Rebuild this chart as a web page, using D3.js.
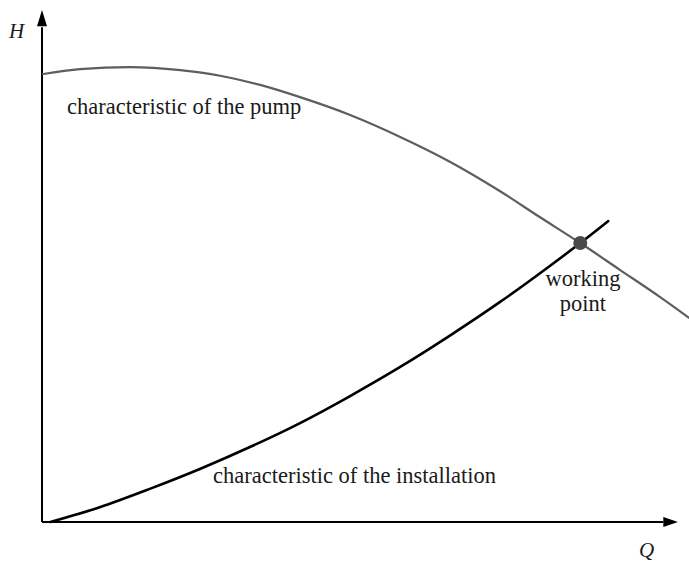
<!DOCTYPE html>
<html>
<head>
<meta charset="utf-8">
<script src="https://cdn.jsdelivr.net/npm/d3@7"></script>
<style>
  html, body { margin: 0; padding: 0; background: #fff; }
  svg { display: block; }
  text { font-family: "Liberation Serif", "Times New Roman", "DejaVu Serif", serif; fill: #1a1a1a; }
</style>
</head>
<body>
<svg id="chart" width="689" height="563"></svg>
<script>
// Flow rate Q (arbitrary units) and head H (arbitrary units)
const pumpQ = [0, 6.0, 13.9, 21.8, 28.1, 34.4, 40.7, 48.6, 56.5, 64.4, 72.2, 78.5, 84.9, 91.2, 97.5, 102.1];
const pumpH = [87.8, 88.8, 89.2, 88.6, 87.5, 85.7, 83.3, 79.8, 75.5, 70.6, 64.9, 59.8, 54.7, 49.4, 44.1, 40.0];

const installQ = [1.3, 9.1, 17.0, 24.9, 32.8, 40.7, 48.6, 56.5, 64.4, 72.2, 80.1, 84.9, 89.3];
const installH = [0, 2.9, 6.5, 10.4, 14.7, 19.4, 24.7, 30.4, 36.6, 43.1, 50.2, 54.7, 59.0];

const workingQ = [84.9];
const workingH = [54.7];

const labels = {
  pump: "characteristic of the pump",
  install: "characteristic of the installation",
  working: ["working", "point"],
  xAxis: "Q",
  yAxis: "H"
};

const svg = d3.select("#chart");

const x = d3.scaleLinear().domain([0, 100]).range([42, 676]);
const y = d3.scaleLinear().domain([0, 100]).range([522, 12]);

const line = d3.line()
  .x(d => x(d[0]))
  .y(d => y(d[1]))
  .curve(d3.curveMonotoneX);

// axes with arrow heads
svg.append("line")
  .attr("x1", x(0)).attr("y1", y(0))
  .attr("x2", x(0)).attr("y2", y(97))
  .attr("stroke", "#000").attr("stroke-width", 2);
svg.append("path")
  .attr("d", `M${x(0)},${y(100) - 2} L${x(0) - 5},${y(97.2)} L${x(0) + 5},${y(97.2)} Z`)
  .attr("fill", "#000");

svg.append("line")
  .attr("x1", x(0)).attr("y1", y(0))
  .attr("x2", x(98)).attr("y2", y(0))
  .attr("stroke", "#000").attr("stroke-width", 2);
svg.append("path")
  .attr("d", `M${x(100) + 2},${y(0)} L${x(98)},${y(0) - 5} L${x(98)},${y(0) + 5} Z`)
  .attr("fill", "#000");

// pump characteristic
svg.append("path")
  .datum(d3.zip(pumpQ, pumpH))
  .attr("d", line)
  .attr("fill", "none")
  .attr("stroke", "#5e5e5e")
  .attr("stroke-width", 2.2);

// installation characteristic
svg.append("path")
  .datum(d3.zip(installQ, installH))
  .attr("d", line)
  .attr("fill", "none")
  .attr("stroke", "#000")
  .attr("stroke-width", 2.6)
  .attr("stroke-linecap", "round");

// working point
svg.selectAll("circle.wp")
  .data(d3.zip(workingQ, workingH))
  .join("circle")
  .attr("class", "wp")
  .attr("cx", d => x(d[0]))
  .attr("cy", d => y(d[1]))
  .attr("r", 7)
  .attr("fill", "#4a4a4a");

// labels
svg.append("text")
  .attr("x", 67).attr("y", 114)
  .attr("font-size", 22.5)
  .text(labels.pump);

svg.append("text")
  .attr("x", 213).attr("y", 483)
  .attr("font-size", 22.5)
  .text(labels.install);

svg.append("text")
  .attr("x", 583).attr("y", 286)
  .attr("text-anchor", "middle")
  .attr("font-size", 22.5)
  .text(labels.working[0]);
svg.append("text")
  .attr("x", 583).attr("y", 311)
  .attr("text-anchor", "middle")
  .attr("font-size", 22.5)
  .text(labels.working[1]);

svg.append("text")
  .attr("x", 9).attr("y", 38)
  .attr("font-size", 21)
  .attr("font-style", "italic")
  .text(labels.yAxis);

svg.append("text")
  .attr("x", 639).attr("y", 557)
  .attr("font-size", 21)
  .attr("font-style", "italic")
  .text(labels.xAxis);
</script>
</body>
</html>
